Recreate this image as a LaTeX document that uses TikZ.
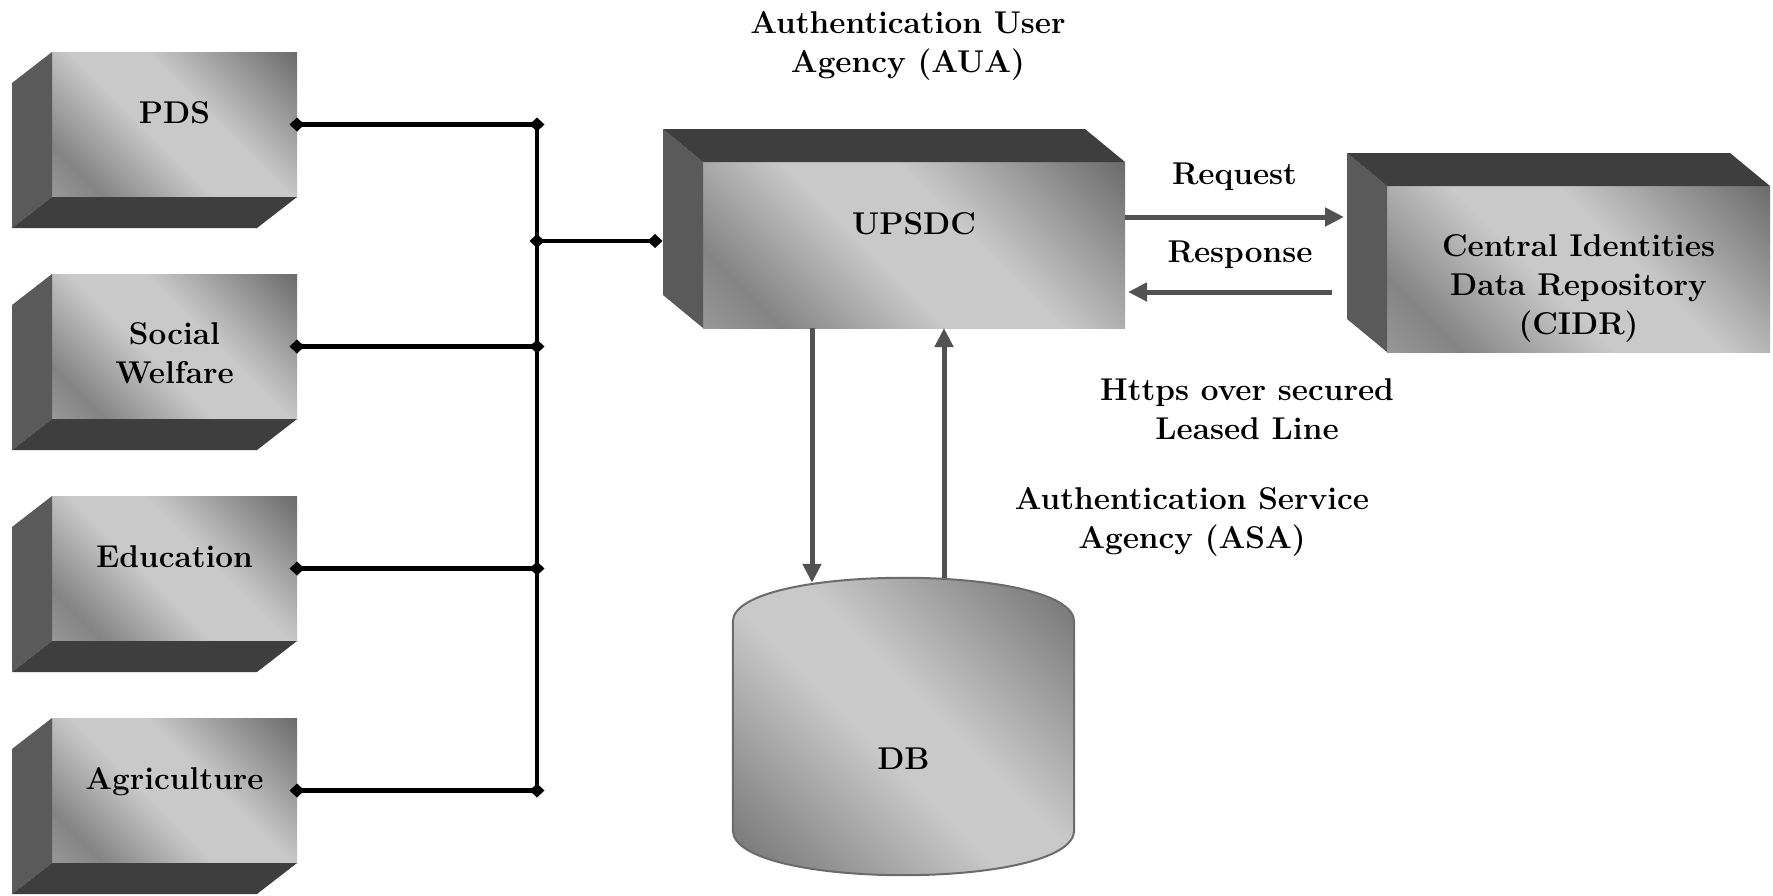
\documentclass[tikz,border=0pt]{standalone}
\usepackage{tikz}
\usetikzlibrary{arrows.meta,positioning,calc}
\pgfdeclarelayer{background}
\pgfsetlayers{background,main}

\definecolor{lightface}{HTML}{C9C9C9}
\definecolor{darkface}{HTML}{6B6B6B}
\definecolor{bandface}{HTML}{848484}
\definecolor{lowface}{HTML}{979797}
\definecolor{sideface}{HTML}{5A5A5A}
\definecolor{capface}{HTML}{3E3E3E}
\definecolor{flowgray}{HTML}{525252}

\pgfdeclarehorizontalshading{boxgrad}{100bp}{color(0bp)=(lowface); color(14.6bp)=(lowface); color(24bp)=(bandface); color(44bp)=(lightface); color(58bp)=(lightface); color(85.4bp)=(darkface); color(100bp)=(darkface)}
\pgfdeclarehorizontalshading{dbgrad}{100bp}{color(0bp)=(darkface); color(14.6bp)=(darkface); color(45bp)=(lightface); color(55bp)=(lightface); color(85.4bp)=(darkface); color(100bp)=(darkface)}

\tikzset{front/.style={rectangle, shade, shading=boxgrad, shading angle=45, inner sep=0pt, outer sep=0pt, align=center}}
\tikzset{lift/.style={text height=22pt, text depth=#1}}
\tikzstyle{dept}=[front, minimum width=245pt, minimum height=145pt]
\tikzstyle{flank}=[fill=sideface]
\tikzstyle{lid}=[fill=capface]
\tikzstyle{lbl}=[align=center, inner sep=0pt]
\tikzset{bus/.style={line width=4.5pt}}
\tikzset{tap/.style={bus, {Diamond[length=15pt,width=14pt]}-{Diamond[length=15pt,width=14pt]}, shorten <=-7.5pt, shorten >=-7.5pt}}
\tikzset{flow/.style={draw=flowgray, line width=5pt, -{Triangle[length=19pt,width=18pt]}}}

\begin{document}
\begin{tikzpicture}[x=1pt, y=-1pt, font=\fontsize{31.5}{39}\selectfont\bfseries]
\useasboundingbox (0,0) rectangle (1773,895);

% departments on the left
\node[dept, lift=24pt] (pds) at (174.5,124.5) {PDS};
\node[dept, below=77pt of pds] (social) {\rule{0pt}{36pt}Social\\Welfare};
\node[dept, lift=24pt, below=77pt of social] (edu) {Education};
\node[dept, lift=24pt, below=77pt of edu] (agri) {Agriculture};

\fill[flank] (pds.north west) -- ++(-40,31) -- ++(0,145) -- (pds.south west) -- cycle;
\fill[lid] (pds.south west) -- ++(-40,31) -- ++(245,0) -- (pds.south east) -- cycle;
\fill[flank] (social.north west) -- ++(-40,31) -- ++(0,145) -- (social.south west) -- cycle;
\fill[lid] (social.south west) -- ++(-40,31) -- ++(245,0) -- (social.south east) -- cycle;
\fill[flank] (edu.north west) -- ++(-40,31) -- ++(0,145) -- (edu.south west) -- cycle;
\fill[lid] (edu.south west) -- ++(-40,31) -- ++(245,0) -- (edu.south east) -- cycle;
\fill[flank] (agri.north west) -- ++(-40,31) -- ++(0,145) -- (agri.south west) -- cycle;
\fill[lid] (agri.south west) -- ++(-40,31) -- ++(245,0) -- (agri.south east) -- cycle;

% AUA and CIDR
\node[front, lift=44pt, minimum width=422pt, minimum height=166pt] (upsdc) at (914,245) {UPSDC};
\fill[flank] (upsdc.north west) -- ++(-40,-33) -- ++(0,166) -- (upsdc.south west) -- cycle;
\fill[lid] (upsdc.north west) -- ++(-40,-33) -- ++(422,0) -- (upsdc.north east) -- cycle;

\node[front, minimum width=383pt, minimum height=166pt] (cidr) at (1578.5,269) {\rule{0pt}{60pt}Central Identities\\Data Repository\\(CIDR)};
\fill[flank] (cidr.north west) -- ++(-40,-33) -- ++(0,166) -- (cidr.south west) -- cycle;
\fill[lid] (cidr.north west) -- ++(-40,-33) -- ++(383,0) -- (cidr.north east) -- cycle;

% database
\node[minimum width=341pt, minimum height=297pt, inner sep=0pt, text height=85pt, text depth=0pt] (db) at (903.5,726.5) {DB};
\begin{pgfonlayer}{background}
\draw[draw=darkface, line width=2pt, shade, shading=dbgrad, shading angle=45] ([yshift=-44pt]db.north west) .. controls ([yshift=14.7pt]db.north west) and ([yshift=14.7pt]db.north east) .. ([yshift=-44pt]db.north east) -- ([yshift=45pt]db.south east) .. controls ([yshift=-15pt]db.south east) and ([yshift=-15pt]db.south west) .. ([yshift=45pt]db.south west) -- cycle;
\end{pgfonlayer}

% bus
\coordinate (hub) at (537,241);
\draw[bus] (pds.east -| hub) -- (agri.east -| hub);
\path[tap] (pds.east) edge (pds.east -| hub)
	(social.east) edge (social.east -| hub)
	(edu.east) edge (edu.east -| hub)
	(agri.east) edge (agri.east -| hub)
	(hub) edge ([xshift=-48pt,yshift=4pt]upsdc.west);

% flows
\draw[flow] ([yshift=28pt]upsdc.east) -- node[above=24pt, inner sep=0pt] {Request} ([xshift=-43pt,yshift=52pt]cidr.west);
\draw[flow] ([xshift=-55pt,yshift=-23pt]cidr.west) -- node[above=21pt, inner sep=0pt, xshift=10pt] {Response} ([xshift=3pt,yshift=-47pt]upsdc.east);
\draw[flow] ([xshift=-102pt]upsdc.south) -- ([xshift=-91.5pt,yshift=-5pt]db.north);
\draw[flow] ([xshift=40.5pt]db.north) -- ([xshift=30pt]upsdc.south);

\node[lbl, anchor=north] (aua) at (908,11.5) {Authentication User\\Agency (AUA)};
\node[lbl, anchor=north] (https) at (1247,378) {Https over secured\\Leased Line};
\node[lbl, anchor=north] (asa) at (1192,487) {Authentication Service\\Agency (ASA)};
\end{tikzpicture}
\end{document}
